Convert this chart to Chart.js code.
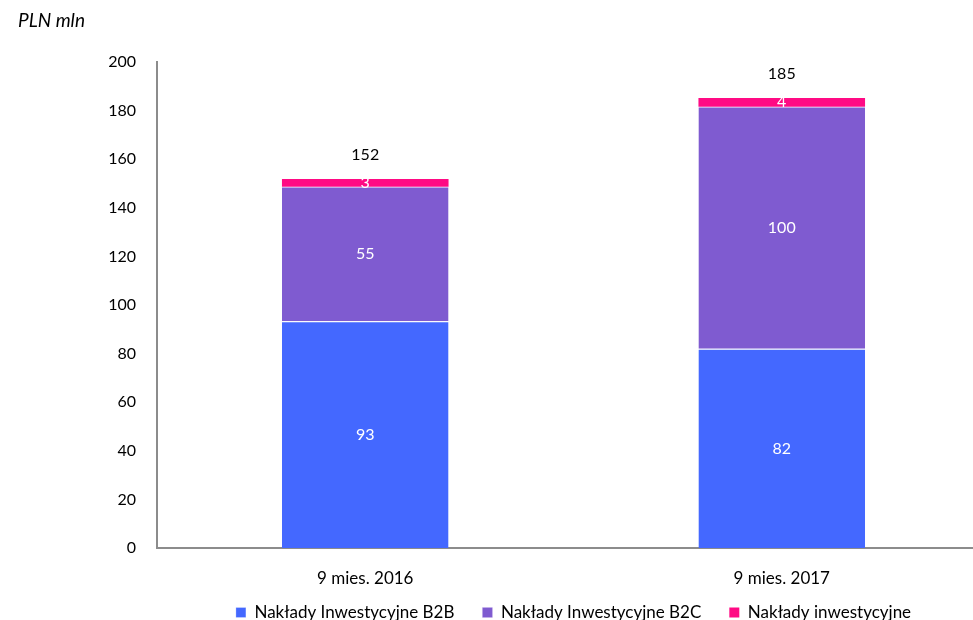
<!DOCTYPE html>
<html>
<head>
<meta charset="utf-8">
<script src="https://cdn.jsdelivr.net/npm/chart.js@4.4.1/dist/chart.umd.min.js"></script>
<style>
    body { margin: 0; overflow: hidden; background: #fff; }
    #wrap { position: relative; width: 990px; height: 620px; overflow: hidden; }
    #unit { position: absolute; left: 18px; top: 8px; font: italic 19px Lato, 'Open Sans', sans-serif; color: #000; }
</style>
</head>
<body>
<div id="wrap">
    <canvas id="chart" width="990" height="648"></canvas>
    <div id="unit">PLN mln</div>
</div>
<script>
const categories = ['9 mies. 2016', '9 mies. 2017'];
const seriesNames = ['Nakłady Inwestycyjne B2B', 'Nakłady Inwestycyjne B2C', 'Nakłady inwestycyjne'];
const b2b = [93.3, 82.0];
const b2c = [55.4, 99.6];
const other = [3.2, 3.6];
const yTicks = [0, 20, 40, 60, 80, 100, 120, 140, 160, 180, 200];

const fontFamily = 'Lato, "Open Sans", sans-serif';

const labelPlugin = {
    id: 'barLabels',
    afterDatasetsDraw(chart) {
        const ctx = chart.ctx;
        ctx.save();
        ctx.textAlign = 'center';
        ctx.textBaseline = 'middle';
        ctx.font = `16px ${fontFamily}`;
        chart.data.datasets.forEach((ds, i) => {
            chart.getDatasetMeta(i).data.forEach((bar, j) => {
                const mid = (bar.y + bar.base) / 2;
                ctx.fillStyle = '#ffffff';
                ctx.fillText(Math.round(ds.data[j]), bar.x, mid);
            });
        });
        const last = chart.getDatasetMeta(chart.data.datasets.length - 1);
        last.data.forEach((bar, j) => {
            const total = chart.data.datasets.reduce((s, ds) => s + ds.data[j], 0);
            ctx.fillStyle = '#000000';
            ctx.fillText(Math.round(total), bar.x, bar.y - 24);
        });
        ctx.restore();
    },
};

// pull the legend up closer to the x labels
const legendShift = {
    id: 'legendShift',
    afterLayout(chart) {
        chart.legend.top -= 17;
        chart.legend.bottom -= 17;
    },
};

new Chart(document.getElementById('chart'), {
    type: 'bar',
    data: {
        labels: categories,
        datasets: [
            { label: seriesNames[0], data: b2b, backgroundColor: '#4468ff', borderColor: '#ffffff', borderWidth: { top: 1 } },
            { label: seriesNames[1], data: b2c, backgroundColor: '#7f5bd0', borderColor: '#c9b8f0', borderWidth: { top: 1 } },
            { label: seriesNames[2], data: other, backgroundColor: '#ff0a84', borderWidth: 0 },
        ],
    },
    options: {
        responsive: false,
        animation: false,
        layout: {
            padding: { top: 62, left: 0, right: 0, bottom: 0 },
        },
        datasets: {
            bar: {
                barPercentage: 0.4,
                categoryPercentage: 1,
            },
        },
        scales: {
            x: {
                stacked: true,
                afterFit(scale) { scale.height = 45; },
                grid: { display: false, drawTicks: false },
                border: { color: '#8c8c8c', width: 2 },
                ticks: {
                    color: '#000',
                    padding: 20,
                    font: { family: fontFamily, size: 17 },
                },
            },
            y: {
                stacked: true,
                min: 0,
                max: 200,
                afterFit(scale) { scale.width = 157; },
                afterBuildTicks(scale) { scale.ticks = yTicks.map((v) => ({ value: v })); },
                grid: { display: false, drawTicks: false },
                border: { color: '#8c8c8c', width: 2 },
                ticks: {
                    color: '#000',
                    padding: 21,
                    font: { family: fontFamily, size: 16 },
                },
            },
        },
        plugins: {
            legend: {
                position: 'bottom',
                fullSize: false,
                labels: {
                    boxWidth: 10,
                    boxHeight: 10,
                    padding: 28,
                    color: '#000',
                    font: { family: fontFamily, size: 17 },
                },
            },
            tooltip: { enabled: false },
        },
    },
    plugins: [labelPlugin, legendShift],
});
</script>
</body>
</html>
